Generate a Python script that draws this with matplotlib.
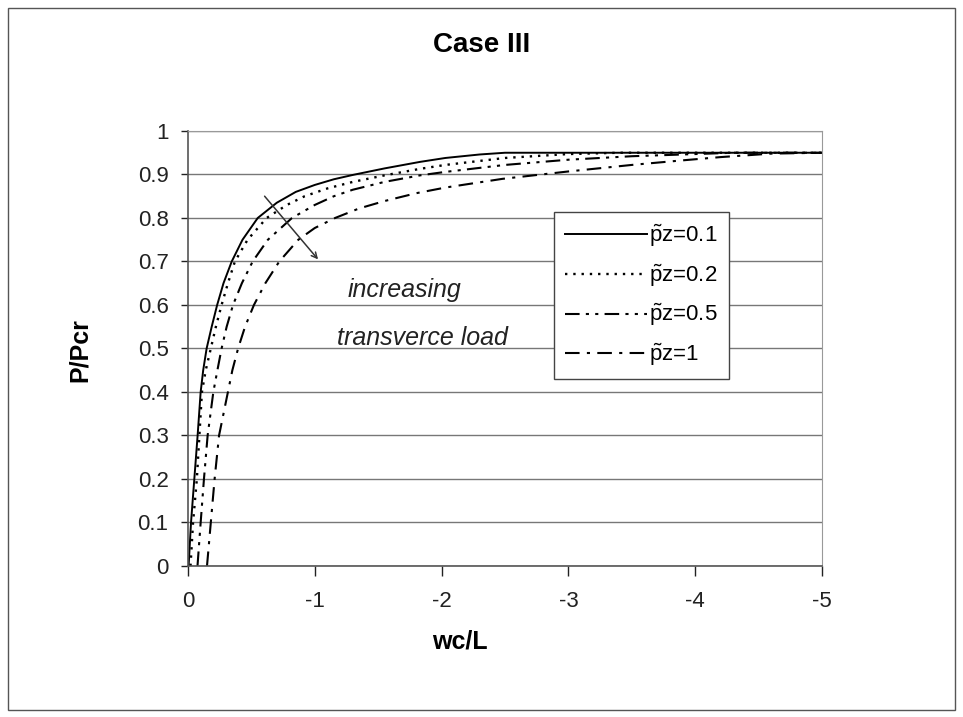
import matplotlib
matplotlib.use('Agg')
import matplotlib.pyplot as plt
from matplotlib.patches import Rectangle

plt.rcParams['font.family'] = ['Liberation Sans', 'DejaVu Sans']
plt.rcParams['axes.unicode_minus'] = False
plt.rcParams['mathtext.fontset'] = 'custom'
plt.rcParams['mathtext.rm'] = 'Liberation Sans'
plt.rcParams['mathtext.it'] = 'Liberation Sans'

# curves (wc/L, P/Pcr)
x_01 = [-0.005, -0.024, -0.05, -0.076, -0.1, -0.12, -0.147, -0.187, -0.23, -0.28, -0.345, -0.43, -0.55, -0.7, -0.85, -1.0, -1.15, -1.3, -1.55, -1.83, -2.03, -2.3, -2.5, -3, -4, -5]
y_01 = [0, 0.1, 0.2, 0.3, 0.4, 0.45, 0.5, 0.55, 0.6, 0.65, 0.7, 0.75, 0.8, 0.835, 0.86, 0.876, 0.889, 0.899, 0.914, 0.929, 0.938, 0.946, 0.95, 0.95, 0.95, 0.95]

x_02 = [-0.02, -0.04, -0.07, -0.09, -0.11, -0.14, -0.18, -0.22, -0.265, -0.315, -0.37, -0.47, -0.62, -0.78, -0.92, -1.1, -1.3, -1.55, -1.83, -2.03, -2.5, -3.0, -3.4, -4, -5]
y_02 = [0, 0.1, 0.2, 0.3, 0.4, 0.45, 0.5, 0.55, 0.6, 0.65, 0.7, 0.75, 0.8, 0.83, 0.85, 0.868, 0.883, 0.898, 0.913, 0.922, 0.938, 0.947, 0.95, 0.95, 0.95]

x_05 = [-0.075, -0.1, -0.126, -0.155, -0.2, -0.232, -0.265, -0.305, -0.355, -0.425, -0.51, -0.63, -0.82, -1.0, -1.15, -1.3, -1.55, -1.83, -2.03, -2.5, -3.0, -3.5, -4.0, -4.3, -5]
y_05 = [0, 0.1, 0.2, 0.3, 0.4, 0.45, 0.5, 0.55, 0.6, 0.65, 0.7, 0.75, 0.8, 0.83, 0.85, 0.865, 0.883, 0.898, 0.906, 0.922, 0.934, 0.942, 0.947, 0.95, 0.95]

x_1 = [-0.15, -0.18, -0.21, -0.245, -0.315, -0.35, -0.395, -0.45, -0.52, -0.61, -0.72, -0.87, -1.0, -1.16, -1.35, -1.55, -1.8, -2.03, -2.48, -3.0, -3.5, -3.88, -4.2, -4.6, -5]
y_1 = [0, 0.1, 0.2, 0.3, 0.4, 0.45, 0.5, 0.55, 0.6, 0.65, 0.7, 0.75, 0.777, 0.8, 0.822, 0.839, 0.857, 0.87, 0.89, 0.907, 0.922, 0.932, 0.94, 0.948, 0.95]

labels = [r'$\tilde{\mathrm{p}}$z=0.1', r'$\tilde{\mathrm{p}}$z=0.2',
          r'$\tilde{\mathrm{p}}$z=0.5', r'$\tilde{\mathrm{p}}$z=1']

fig = plt.figure(figsize=(9.63, 7.17), dpi=100)
ax = fig.add_axes([0.1952, 0.2106, 0.6584, 0.6067])

ax.plot(x_01, y_01, color='black', lw=1.4, linestyle='-', label=labels[0])
ax.plot(x_02, y_02, color='black', lw=1.7, linestyle=(0, (1, 2.5)), label=labels[1])
ax.plot(x_05, y_05, color='black', lw=1.5, linestyle=(0, (7, 3, 1.5, 3, 1.5, 3)), label=labels[2])
ax.plot(x_1, y_1, color='black', lw=1.5, linestyle=(0, (7, 3.5, 1.5, 3.5)), label=labels[3])

ax.set_xlim(0, -5)
ax.set_ylim(0, 1)
ax.set_xticks([0, -1, -2, -3, -4, -5])
ax.set_xticklabels(['0', '-1', '-2', '-3', '-4', '-5'])
ax.set_yticks([i / 10 for i in range(11)])
ax.set_yticklabels(['0', '0.1', '0.2', '0.3', '0.4', '0.5', '0.6', '0.7', '0.8', '0.9', '1'])
ax.tick_params(labelsize=16, direction='out', width=1, colors='#222222')
ax.tick_params(axis='y', length=5, pad=9)
ax.tick_params(axis='x', length=7, pad=11)
ax.grid(axis='y', color='#777777', lw=1)
ax.set_axisbelow(True)
for s in ['top', 'right']:
    ax.spines[s].set_color('#999999')
for s in ['left', 'bottom']:
    ax.spines[s].set_color('#555555')
    ax.spines[s].set_linewidth(1.2)

leg = ax.legend(loc='upper left', bbox_to_anchor=(0.577, 0.814), borderaxespad=0,
                fontsize=16, handlelength=3.7, handletextpad=0.1, labelspacing=0.6,
                fancybox=False, framealpha=1, edgecolor='#444444', borderpad=0.5)
leg.get_frame().set_linewidth(1)

# handwritten note
ax.annotate('', xy=(-1.04, 0.70), xytext=(-0.59, 0.855),
            arrowprops=dict(arrowstyle='->', color='#333333', lw=1.1))
ax.text(-1.71, 0.634, 'increasing', fontsize=18, style='italic', ha='center', va='center', color='#222222')
ax.text(-1.85, 0.524, 'transverce load', fontsize=18, style='italic', ha='center', va='center', color='#222222')

fig.text(0.5, 0.937, 'Case III', fontsize=20, fontweight='bold', ha='center', va='center')
fig.text(0.083, 0.512, 'P/Pcr', fontsize=18, fontweight='bold', ha='center', va='center', rotation=90)
fig.text(0.478, 0.105, 'wc/L', fontsize=18, fontweight='bold', ha='center', va='center')

fig.patches.append(Rectangle((0.008, 0.010), 0.984, 0.979, transform=fig.transFigure,
                             fill=False, edgecolor='#555555', lw=1))

fig.savefig('out.png', dpi=100)
